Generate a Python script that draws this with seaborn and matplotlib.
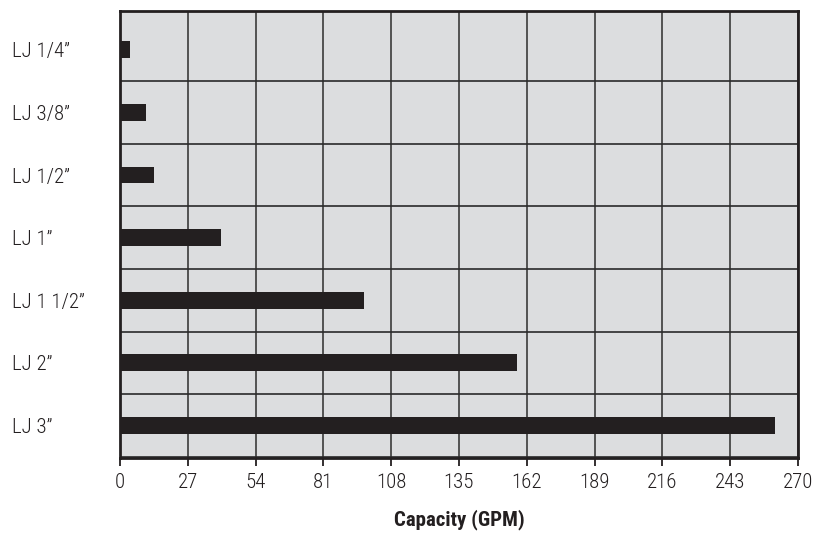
"""Capacity (GPM) by LJ size, horizontal bar chart."""
import matplotlib
matplotlib.use("Agg")
import matplotlib.pyplot as plt
from matplotlib import font_manager
import numpy as np
import pandas as pd
import seaborn as sns

sizes = ["LJ 1/4\u201d", "LJ 3/8\u201d", "LJ 1/2\u201d", "LJ 1\u201d",
         "LJ 1 1/2\u201d", "LJ 2\u201d", "LJ 3\u201d"]
capacity = [3.9, 10.4, 13.5, 40.2, 97.2, 158.1, 260.9]
x_ticks = [0, 27, 54, 81, 108, 135, 162, 189, 216, 243, 270]

INK = "#231f20"
BG = "#dcdddf"

sns.set_theme(style="white")
installed = {f.name for f in font_manager.fontManager.ttflist}
narrow = [f for f in ["Roboto Condensed", "Liberation Sans Narrow"] if f in installed]
plt.rcParams["font.family"] = narrow + ["Liberation Sans", "DejaVu Sans"]

df = pd.DataFrame({"size": sizes, "capacity": capacity})

fig = plt.figure(figsize=(8.28, 5.33), dpi=100)
ax = fig.add_axes([120 / 828, 1 - 458 / 533, 678 / 828, 447 / 533])
ax.set_facecolor(BG)

sns.barplot(data=df, x="capacity", y="size", order=sizes, orient="h",
            color=INK, width=0.27, saturation=1, linewidth=0,
            edgecolor=INK, ax=ax, zorder=3)

ax.set_xlim(0, 270)
ax.set_ylim(6.52, -0.62)
ax.set_xticks(x_ticks)
ax.set_xticklabels([str(t) for t in x_ticks], fontsize=15, color=INK,
                   fontweight="light")

# horizontal grid lines between categories
ax.set_yticks(np.arange(len(sizes)) + 0.5, minor=True)
ax.grid(True, axis="x", which="major", color="#3a3a3a", lw=1.2, zorder=1)
ax.grid(True, axis="y", which="minor", color="#2a2a2a", lw=1.2, zorder=1)
ax.grid(False, axis="y", which="major")
ax.tick_params(axis="y", which="minor", length=0)

ax.tick_params(axis="x", which="major", direction="out", length=6, width=1.3,
               color=INK, pad=5, bottom=True)
ax.tick_params(axis="y", which="major", length=0, pad=78)
for lab in ax.get_yticklabels():
    lab.set_horizontalalignment("left")
    lab.set_fontsize(15)
    lab.set_color(INK)
    lab.set_fontweight("light")

for side in ["left", "right", "top", "bottom"]:
    ax.spines[side].set_visible(True)
    ax.spines[side].set_color(INK)
    ax.spines[side].set_linewidth(2)

ax.set_ylabel("")
ax.set_xlabel("Capacity (GPM)", fontsize=15, fontweight="bold", color=INK,
              labelpad=12)

fig.savefig("out.png", dpi=100)
plt.close(fig)
